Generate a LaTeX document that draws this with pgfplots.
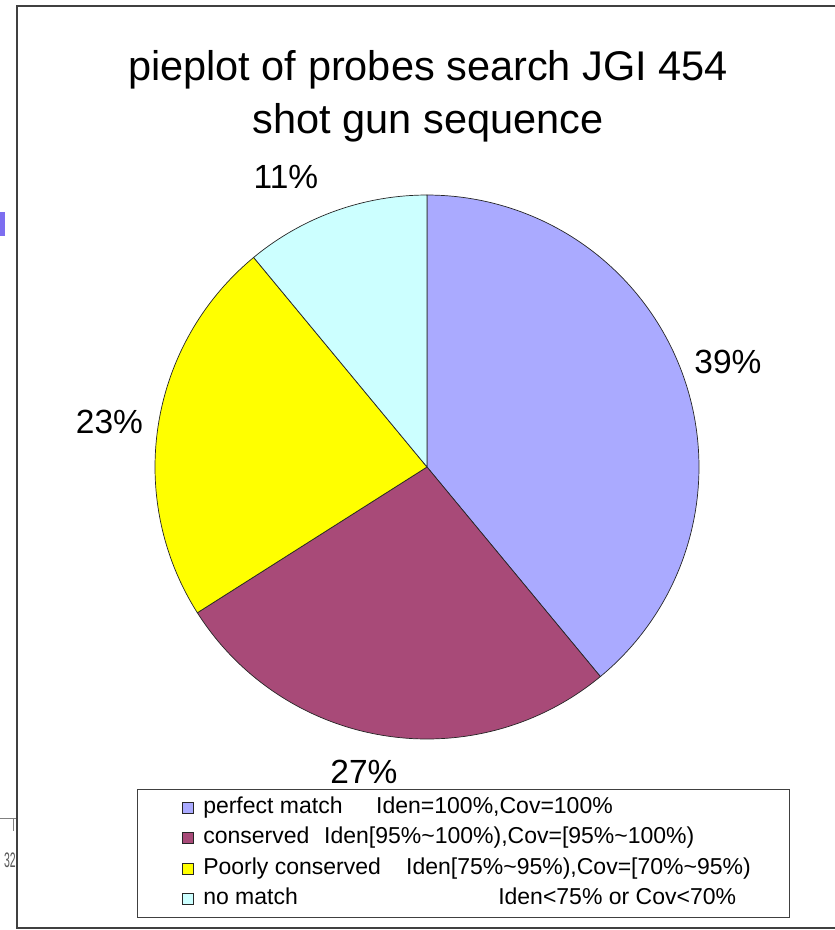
\documentclass[border=0pt]{standalone}
\usepackage{pgfplots}
\pgfplotsset{compat=1.18}
\usepackage{pgfplotstable}
\usepackage{fontspec}
\setmainfont{Liberation Sans}

\definecolor{cPerfect}{RGB}{170,170,255}
\definecolor{cCons}{RGB}{168,74,120}
\definecolor{cPoor}{RGB}{255,255,0}
\definecolor{cNone}{RGB}{204,255,255}
\definecolor{frameGray}{RGB}{64,64,64}
\definecolor{smudge}{RGB}{125,110,240}

% share of probes in each class (percent)
\pgfplotstableread{
class share
perfect 39
conserved 27
poor 23
none 11
}\piedata

\pgfplotstablegetelem{0}{share}\of\piedata \let\sA\pgfplotsretval
\pgfplotstablegetelem{1}{share}\of\piedata \let\sB\pgfplotsretval
\pgfplotstablegetelem{2}{share}\of\piedata \let\sC\pgfplotsretval
\pgfplotstablegetelem{3}{share}\of\piedata \let\sD\pgfplotsretval

% wedge boundaries, clockwise from 12 o'clock
\pgfmathsetmacro{\aA}{90}
\pgfmathsetmacro{\aB}{\aA-3.6*\sA}
\pgfmathsetmacro{\aC}{\aB-3.6*\sB}
\pgfmathsetmacro{\aD}{\aC-3.6*\sC}
\pgfmathsetmacro{\aE}{\aD-3.6*\sD}

\newcommand{\cx}{427}
\newcommand{\cy}{467}
\newcommand{\rr}{272}

\begin{document}
\begin{tikzpicture}
\useasboundingbox (0,0) rectangle (835pt,930pt);
\begin{axis}[
  scale only axis, width=835pt, height=930pt,
  xmin=0, xmax=835, ymin=0, ymax=930, y dir=reverse,
  hide axis, clip=false,
  legend image code/.code={\path (0pt,0pt);
    \draw[#1,line width=0.8pt,draw=black!85] (6pt,-5.5pt) rectangle (17pt,5.5pt);},
  legend style={at={(axis cs:137,789)}, anchor=north west,
    draw=frameGray, line width=1pt, fill=white,
    inner xsep=39pt, inner ysep=6.5pt,
    nodes={inner sep=0pt, text height=17pt, text depth=6pt,
           font=\fontsize{23}{27}\selectfont},
    column sep=9pt, row sep=7.6pt},
  legend cell align=left,
]
\addplot[fill=cPerfect, draw=black!85, line width=0.7pt, domain=\aB:\aA, samples=120]
  ({\cx+\rr*cos(x)}, {\cy-\rr*sin(x)}) -- (axis cs:\cx,\cy) -- cycle;
\addlegendentry{\makebox[173pt][l]{perfect match}Iden=100\%,Cov=100\%}
\addplot[fill=cCons, draw=black!85, line width=0.7pt, domain=\aC:\aB, samples=90]
  ({\cx+\rr*cos(x)}, {\cy-\rr*sin(x)}) -- (axis cs:\cx,\cy) -- cycle;
\addlegendentry{\makebox[121pt][l]{conserved}Iden[95\%\textasciitilde100\%),Cov=[95\%\textasciitilde100\%)}
\addplot[fill=cPoor, draw=black!85, line width=0.7pt, domain=\aD:\aC, samples=80]
  ({\cx+\rr*cos(x)}, {\cy-\rr*sin(x)}) -- (axis cs:\cx,\cy) -- cycle;
\addlegendentry{\makebox[203pt][l]{Poorly conserved}Iden[75\%\textasciitilde95\%),Cov=[70\%\textasciitilde95\%)}
\addplot[fill=cNone, draw=black!85, line width=0.7pt, domain=\aE:\aD, samples=50]
  ({\cx+\rr*cos(x)}, {\cy-\rr*sin(x)}) -- (axis cs:\cx,\cy) -- cycle;
\addlegendentry{\makebox[295pt][l]{no match}Iden<75\% or Cov<70\%}

% chart area frame
\draw[frameGray, line width=2pt] (axis cs:836,6) -- (axis cs:17,6) -- (axis cs:17,928) -- (axis cs:836,928);

% title
\node[anchor=base, font=\fontsize{41.5}{48}\selectfont] at (axis cs:428,80) {pieplot of probes search JGI 454};
\node[anchor=base, font=\fontsize{41.5}{48}\selectfont] at (axis cs:428,133) {shot gun sequence};

% slice labels
\node[anchor=base, font=\fontsize{33.5}{38}\selectfont] at (axis cs:728,373) {\sA\%};
\node[anchor=base, font=\fontsize{33.5}{38}\selectfont] at (axis cs:364,783) {\sB\%};
\node[anchor=base, font=\fontsize{33.5}{38}\selectfont] at (axis cs:109.5,433) {\sC\%};
\node[anchor=base, font=\fontsize{33.5}{38}\selectfont] at (axis cs:286,188) {\sD\%};

% fragments of the neighbouring sheet at the left edge
\draw[gray, line width=1pt] (axis cs:0,818) -- (axis cs:16,818);
\draw[gray, line width=1pt] (axis cs:13,818) -- (axis cs:13,831);
\node[anchor=base east, inner sep=0pt, text=black!65, font=\fontsize{21}{24}\selectfont] at (axis cs:16,867) {\scalebox{0.5}[1]{32}};
\fill[smudge] (axis cs:0,212) rectangle (axis cs:5,236);
\end{axis}
\end{tikzpicture}
\end{document}
